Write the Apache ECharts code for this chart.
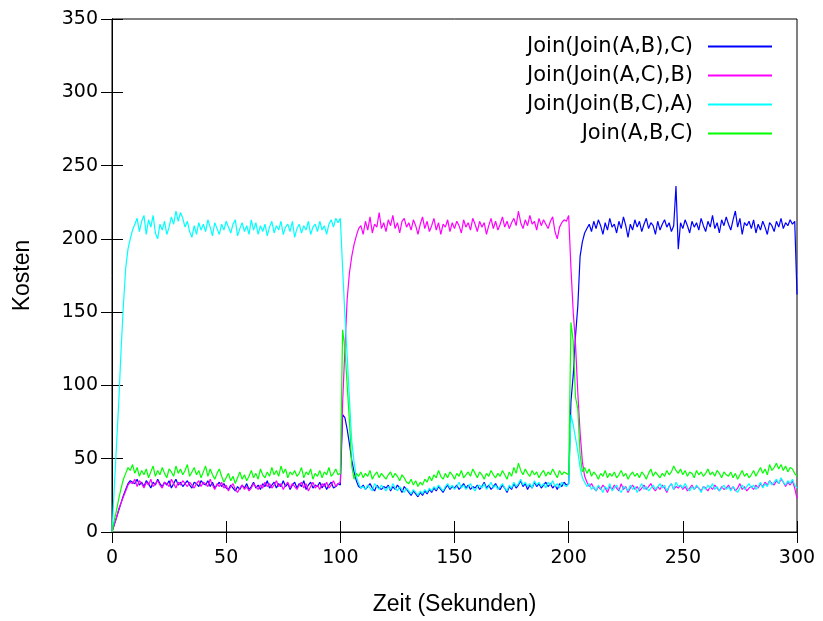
<!DOCTYPE html>
<html>
<head>
<meta charset="utf-8">
<script src="https://cdn.jsdelivr.net/npm/echarts@6/dist/echarts.min.js"></script>
<style>
html,body{margin:0;padding:0;background:#fff;}
#chart{width:823px;height:621px;}
</style>
</head>
<body>
<div id="chart"></div>
<script>
// Sample times (seconds), one sample per second 0..300
var seconds = [];
for (var s = 0; s <= 300; s++) seconds.push(s);

var seriesNames = ['Join(Join(A,B),C)', 'Join(Join(A,C),B)', 'Join(Join(B,C),A)', 'Join(A,B,C)'];

var joinAB_C = [
0,5,10,15,20,25,29,33,35,34,
33,36,32,34,31,35,33,30,34,32,
36,33,31,34,32,35,30,33,36,32,
34,31,33,35,32,30,34,33,31,35,
33,32,35,31,34,30,32,34,31,33,
30,29,32,30,28,31,29,32,30,33,
29,31,34,30,32,29,33,31,35,30,
32,34,30,33,31,35,31,33,29,32,
34,30,33,31,35,29,32,34,30,32,
31,34,30,33,29,32,34,30,31,33,
32,80,78,70,60,49,41,35,31,30,
32,29,31,33,30,28,32,30,29,31,
30,32,28,31,29,32,30,27,31,29,
27,25,28,26,24,27,25,28,26,29,
27,30,28,31,29,27,30,32,29,31,
30,32,29,31,33,30,32,29,31,30,
32,29,31,34,30,32,29,31,33,30,
29,32,30,27,31,29,33,30,32,35,
31,33,29,32,30,34,31,33,30,32,
34,31,33,30,32,29,33,31,34,32,
33,89,107,134,154,188,198,204,207,210,
205,212,207,213,209,203,211,206,214,208,
210,204,212,207,215,209,201,210,206,213,
208,212,205,210,214,207,211,209,203,212,
206,210,213,208,211,205,209,236,193,211,
207,213,209,204,212,208,211,206,214,209,
205,212,208,216,207,211,204,213,209,215,
210,206,213,219,208,214,203,211,209,212,
207,213,204,210,206,212,208,203,211,209,
205,212,208,214,207,211,209,213,210,212,
162];

var joinAC_B = [
0,5,10,16,20,24,28,32,34,33,
36,31,35,33,30,34,32,36,31,33,
35,32,30,34,33,31,36,33,30,34,
32,35,33,31,34,32,30,33,35,31,
34,33,31,36,32,29,33,31,34,30,
32,28,31,33,29,27,30,32,29,31,
28,30,33,31,29,32,30,34,31,33,
30,32,35,31,33,29,32,34,30,33,
31,29,32,34,30,33,28,31,34,30,
32,29,33,31,34,30,32,35,31,33,
34,88,125,159,177,188,196,202,207,209,
203,212,206,215,204,210,208,218,207,211,
205,213,209,216,207,211,204,212,214,208,
211,206,213,209,203,210,215,207,212,205,
209,214,206,211,203,210,208,213,205,211,
207,212,209,204,213,208,211,206,214,210,
205,212,208,211,203,209,214,207,212,206,
210,215,208,212,207,211,214,209,219,211,
207,213,209,216,210,212,206,214,209,213,
210,207,212,215,205,200,208,211,213,212,
216,180,150,128,95,68,48,38,34,31,
33,30,28,31,29,32,30,27,31,29,
32,30,28,33,29,31,27,30,32,29,
31,28,30,32,29,31,33,30,28,31,
29,32,30,27,31,33,29,31,30,32,
29,31,28,30,32,29,31,30,28,31,
30,28,31,29,32,30,28,31,29,30,
32,29,31,28,30,33,29,31,28,30,
31,29,32,30,33,31,34,32,35,33,
32,35,33,36,34,31,34,32,35,30,
23];

var joinBC_A = [
0,30,60,90,125,155,180,193,200,206,
210,214,205,212,216,203,213,208,216,204,
200,210,206,212,203,208,215,210,219,212,
218,214,208,212,205,201,209,203,211,206,
210,205,213,208,202,211,207,203,210,206,
212,208,204,210,213,202,207,211,205,209,
203,213,206,211,203,209,205,210,202,208,
212,204,209,206,212,203,208,210,205,212,
201,207,210,204,209,206,212,203,208,210,
205,212,206,209,203,210,213,208,214,211,
214,180,148,120,90,62,48,38,33,30,
31,29,32,30,28,33,31,29,32,30,
28,31,29,33,30,28,31,29,27,30,
28,26,29,27,25,28,26,29,27,30,
28,31,29,32,30,28,31,33,30,32,
29,31,34,30,32,29,31,33,30,28,
31,32,30,33,29,31,34,30,32,29,
31,33,30,28,32,30,34,31,33,36,
32,34,31,33,30,35,32,34,31,33,
30,34,32,35,31,33,30,34,32,31,
33,80,73,64,55,44,37,34,31,33,
29,31,28,32,30,27,31,29,33,28,
30,32,29,27,31,30,28,32,29,31,
27,30,33,29,31,28,30,32,29,31,
33,30,32,28,31,33,29,34,31,32,
30,33,30,28,31,29,32,30,27,31,
29,32,30,33,29,31,28,30,32,29,
31,28,31,29,27,30,32,29,31,33,
30,32,29,31,34,30,33,31,35,32,
34,36,33,37,34,32,35,33,36,32,
30];

var joinABC = [
0,8,15,23,30,36,40,44,42,46,
40,44,38,42,39,43,37,41,45,38,
42,39,44,40,37,43,41,38,45,40,
43,39,42,46,38,41,44,39,42,37,
41,45,38,43,39,36,40,43,38,34,
37,40,35,38,33,37,41,36,39,35,
38,42,37,40,36,43,39,37,41,38,
44,39,42,38,45,40,43,37,41,39,
42,38,40,44,37,41,39,43,36,40,
38,42,37,41,39,44,38,40,43,39,
40,138,125,100,75,45,36,40,38,41,
37,40,38,42,36,39,41,37,40,38,
36,39,41,37,40,38,35,39,37,34,
33,36,32,35,31,34,32,36,34,38,
35,39,37,42,38,36,40,37,41,39,
36,40,38,42,37,39,41,38,43,40,
37,41,39,36,40,38,42,39,37,40,
38,42,39,36,41,38,44,40,47,42,
39,43,40,38,42,39,41,37,40,42,
38,41,39,43,40,37,42,39,41,40,
39,143,130,92,84,53,41,44,40,43,
38,41,39,36,40,38,42,37,40,38,
41,37,39,42,38,40,36,39,41,38,
40,37,41,39,36,40,43,38,41,39,
37,40,38,42,39,41,45,42,40,43,
39,42,38,41,40,37,42,39,41,38,
40,43,39,41,38,42,40,37,41,39,
38,41,37,40,36,39,42,38,40,37,
39,42,38,41,44,40,43,39,46,42,
44,47,43,46,42,45,41,44,43,40,
38];

var colors = ['#0000ff', '#ff00ff', '#00ffff', '#00ff00'];
var allValues = [joinAB_C, joinAC_B, joinBC_A, joinABC];

function pairs(vals) {
  return seconds.map(function (t, i) { return [t, vals[i]]; });
}

var chart = echarts.init(document.getElementById('chart'), null, {renderer: 'canvas'});

var tickFont = {fontFamily: 'DejaVu Sans', fontSize: 19, color: '#000'};

var option = {
  animation: false,
  backgroundColor: '#fff',
  grid: {left: 112, right: 26, top: 19, bottom: 87, show: true, borderColor: '#000', borderWidth: 1, backgroundColor: 'transparent'},
  legend: {
    orient: 'vertical',
    right: 51,
    top: 36,
    padding: 0,
    align: 'right',
    icon: 'rect',
    itemWidth: 64,
    itemHeight: 2,
    itemGap: 8,
    textStyle: {fontFamily: 'DejaVu Sans', fontSize: 21, color: '#000', lineHeight: 21, padding: [0, 10, 0, 0]},
    data: seriesNames
  },
  xAxis: [{
    type: 'value', min: 0, max: 300, interval: 50,
    name: 'Zeit (Sekunden)', nameLocation: 'middle', nameGap: 61,
    nameTextStyle: {fontFamily: 'Liberation Sans', fontSize: 23, color: '#000'},
    axisLine: {show: true, lineStyle: {color: '#000', width: 1}},
    axisTick: {show: true, inside: true, length: 11, lineStyle: {color: '#000'}},
    axisLabel: Object.assign({margin: 17}, tickFont),
    splitLine: {show: false}
  }, {
    type: 'value', min: 0, max: 300, interval: 50, position: 'top',
    axisLine: {show: true, lineStyle: {color: '#000', width: 1}},
    axisTick: {show: true, inside: true, length: 11, lineStyle: {color: '#000'}},
    axisLabel: {show: false},
    splitLine: {show: false}
  }],
  yAxis: [{
    type: 'value', min: 0, max: 350, interval: 50,
    name: 'Kosten', nameLocation: 'middle', nameGap: 78, nameRotate: 90,
    nameTextStyle: {fontFamily: 'Liberation Sans', fontSize: 23, color: '#000'},
    axisLine: {show: true, lineStyle: {color: '#000', width: 1}},
    axisTick: {show: true, inside: true, length: 11, lineStyle: {color: '#000'}},
    axisLabel: Object.assign({margin: 14}, tickFont),
    splitLine: {show: false}
  }, {
    type: 'value', min: 0, max: 350, interval: 50, position: 'right',
    axisLine: {show: true, lineStyle: {color: '#000', width: 1}},
    axisTick: {show: true, inside: true, length: 11, lineStyle: {color: '#000'}},
    axisLabel: {show: false},
    splitLine: {show: false}
  }],
  series: seriesNames.map(function (name, k) {
    return {
      name: name,
      type: 'line',
      xAxisIndex: 0,
      yAxisIndex: 0,
      data: pairs(allValues[k]),
      showSymbol: false,
      symbol: 'none',
      color: colors[k],
      itemStyle: {color: colors[k]},
      lineStyle: {color: colors[k], width: 1.2},
      emphasis: {disabled: true},
      z: 2 + k
    };
  })
};

chart.setOption(option);
</script>
</body>
</html>
